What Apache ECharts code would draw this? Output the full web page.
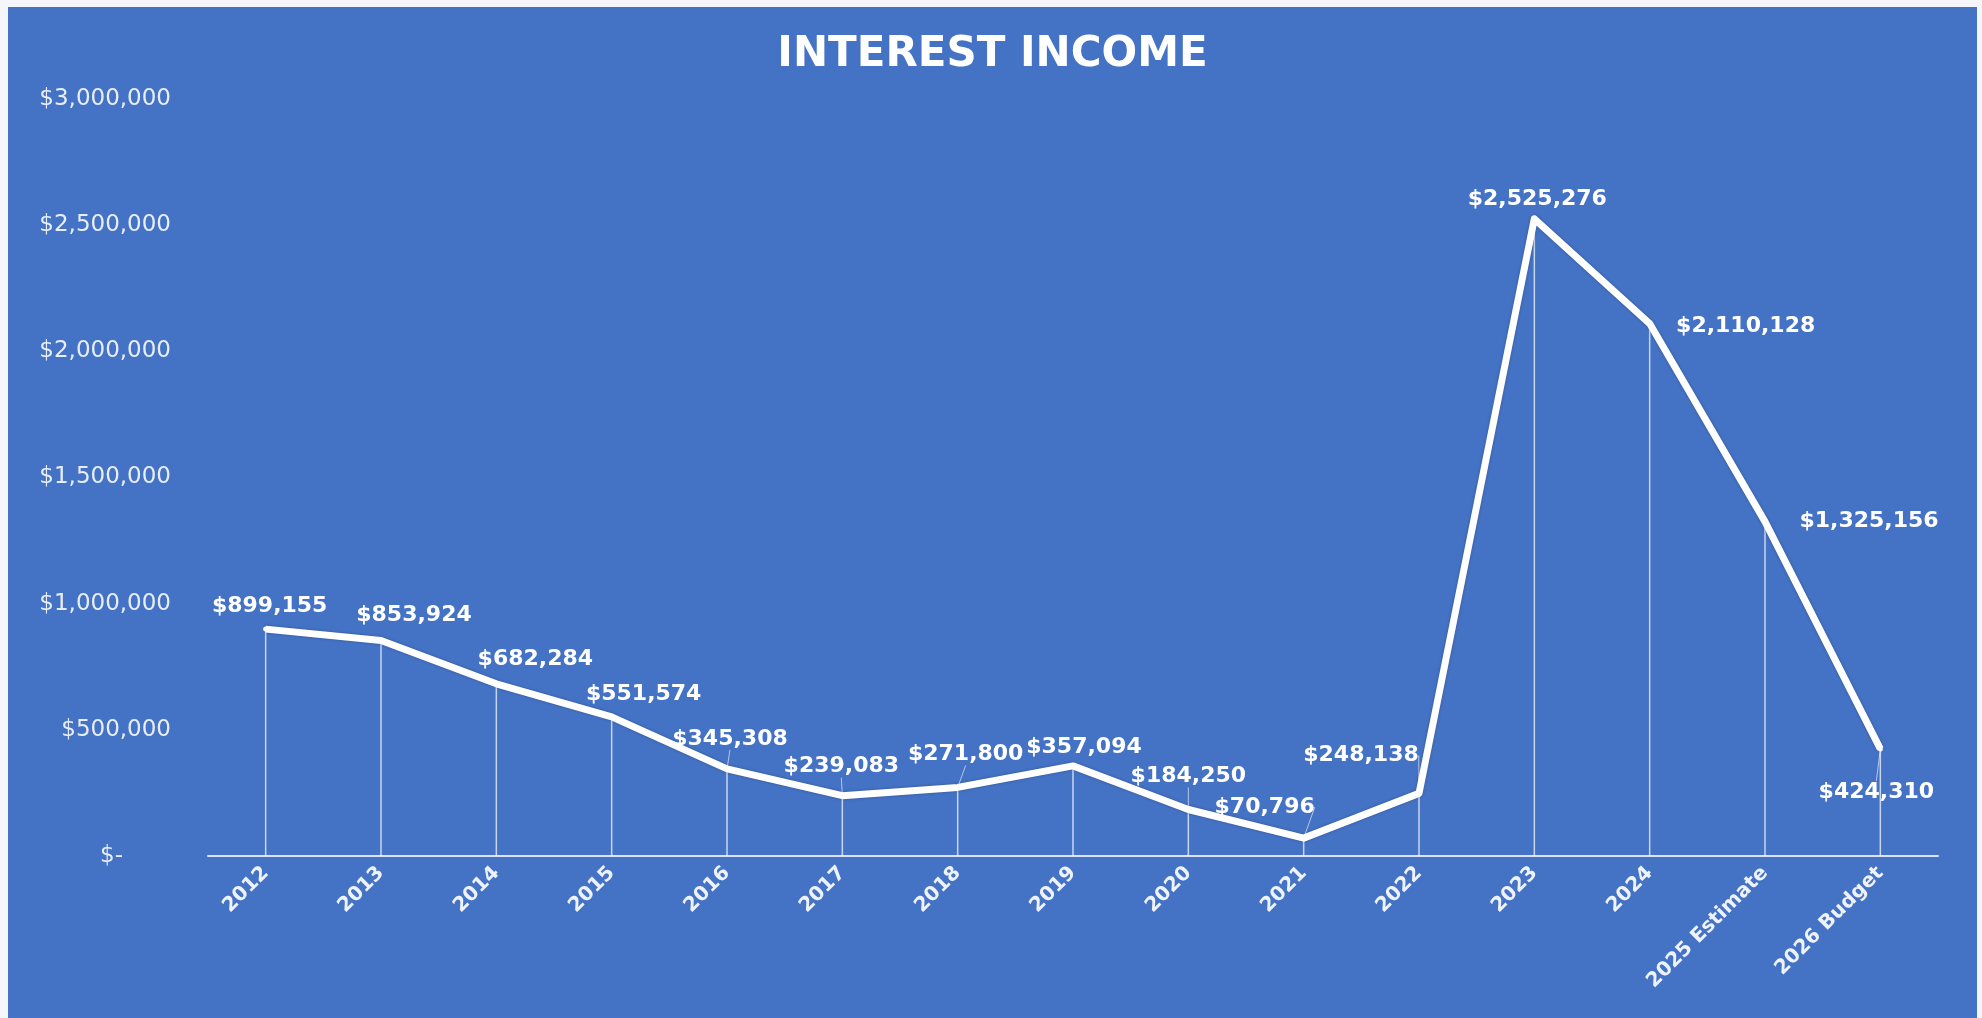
<!DOCTYPE html>
<html>
<head>
<meta charset="utf-8">
<script src="https://cdn.jsdelivr.net/npm/echarts@6/dist/echarts.min.js"></script>
<style>
  html, body { margin: 0; padding: 0; background: #f4f6f9; }
  #main { position: absolute; left: 8px; top: 7px; width: 1969px; height: 1011px; background: #4472C4; }
</style>
</head>
<body>
<div id="main"></div>
<script>
// categories and values
var years = ['2012', '2013', '2014', '2015', '2016', '2017', '2018', '2019', '2020',
  '2021', '2022', '2023', '2024', '2025 Estimate', '2026 Budget'];
var income = [899155, 853924, 682284, 551574, 345308, 239083, 271800, 357094, 184250,
  70796, 248138, 2525276, 2110128, 1325156, 424310];
var yMin = 0, yMax = 3000000, yStep = 500000;

// label nudges (px from the point) and which ones get a leader line
var labelDx = [4, 33, 39, 32, 3, -1, 8, 11, 0, -39, -58, 3, 96, 104, -4];
var labelDy = [-23, -25, -25, -23, -30, -29, -33, -19, -33, -31, -38, -20, 3, 0, 43];
var leader = [0, 0, 0, 0, 1, 1, 1, 0, 1, 1, 1, 0, 0, 0, 1];

var money = function (v) { return '$' + v.toLocaleString('en-US'); };
var font = 'DejaVu Sans';

var chart = echarts.init(document.getElementById('main'));

var lineData = income.map(function (v, i) {
  return { value: v, labelLine: { show: leader[i] === 1 } };
});

var option = {
  animation: false,
  backgroundColor: '#4472C4',
  title: {
    text: 'INTEREST INCOME',
    left: 'center',
    top: 22,
    textStyle: { color: '#ffffff', fontSize: 42, fontWeight: 'bold', fontFamily: font }
  },
  grid: { left: 200, right: 39, top: 92, bottom: 162, outerBoundsMode: 'none' },
  xAxis: {
    type: 'category',
    data: years,
    boundaryGap: true,
    axisLine: { lineStyle: { color: '#d9e2f3', width: 2 } },
    axisTick: { show: false },
    axisLabel: {
      rotate: 45,
      margin: 14,
      interval: 0,
      color: '#eef2fa',
      fontSize: 20,
      fontWeight: 'bold',
      fontFamily: font
    },
    splitLine: { show: false }
  },
  yAxis: {
    type: 'value',
    min: yMin,
    max: yMax,
    interval: yStep,
    axisLine: { show: false },
    axisTick: { show: false },
    splitLine: { show: false },
    axisLabel: {
      margin: 37,
      color: '#e8eef8',
      fontSize: 23,
      fontFamily: font,
      formatter: function (v) { return v === 0 ? '{z|$-}' : money(v); },
      rich: { z: { color: '#e8eef8', fontSize: 23, fontFamily: font, padding: [0, 48, 0, 0] } }
    }
  },
  series: [
    {
      // drop lines
      type: 'bar',
      data: income,
      barWidth: 1.5,
      itemStyle: { color: 'rgba(255,255,255,0.7)' },
      silent: true,
      z: 1
    },
    {
      type: 'line',
      data: lineData,
      symbol: 'circle',
      symbolSize: 5,
      showSymbol: true,
      itemStyle: { color: '#ffffff' },
      lineStyle: {
        color: '#ffffff',
        width: 7,
        join: 'round',
        shadowColor: 'rgba(0,0,0,0.25)',
        shadowBlur: 3
      },
      label: {
        show: true,
        position: 'inside',
        color: '#ffffff',
        fontSize: 22,
        fontWeight: 'bold',
        fontFamily: font,
        formatter: function (p) { return money(p.value); }
      },
      labelLine: {
        lineStyle: { color: 'rgba(255,255,255,0.6)', width: 1 }
      },
      labelLayout: function (p) {
        return { dx: labelDx[p.dataIndex], dy: labelDy[p.dataIndex] };
      },
      z: 3
    }
  ]
};

chart.setOption(option);
</script>
</body>
</html>
